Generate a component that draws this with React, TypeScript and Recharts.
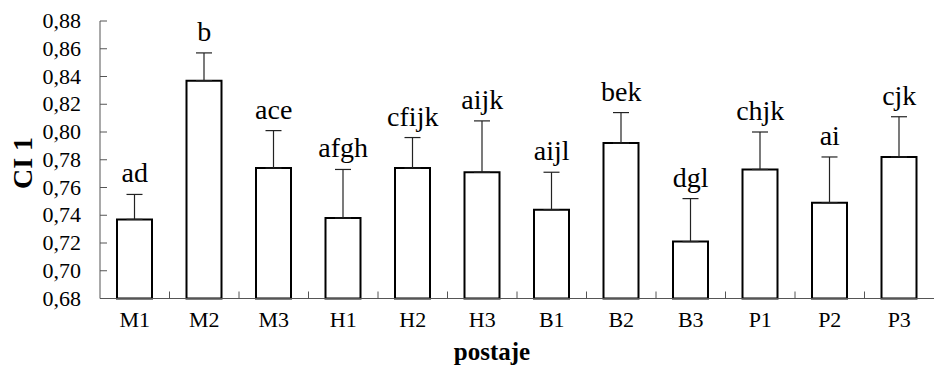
import React from 'react';
import { ComposedChart, Bar, Line, XAxis, YAxis, ErrorBar, LabelList, Label } from 'recharts';

const stations = ['M1', 'M2', 'M3', 'H1', 'H2', 'H3', 'B1', 'B2', 'B3', 'P1', 'P2', 'P3'];
const means = [0.737, 0.837, 0.774, 0.738, 0.774, 0.771, 0.744, 0.792, 0.721, 0.773, 0.749, 0.782];
const sds = [0.018, 0.020, 0.027, 0.035, 0.022, 0.037, 0.027, 0.022, 0.031, 0.027, 0.033, 0.029];
const groups = ['ad', 'b', 'ace', 'afgh', 'cfijk', 'aijk', 'aijl', 'bek', 'dgl', 'chjk', 'ai', 'cjk'];
const yTicks = [0.68, 0.7, 0.72, 0.74, 0.76, 0.78, 0.8, 0.82, 0.84, 0.86, 0.88];

const data = stations.map((s, i) => ({
  station: s,
  ci: means[i],
  err: [0, sds[i]],
  top: means[i] + sds[i],
  group: groups[i],
}));

const FONT = '"Liberation Serif", "Times New Roman", serif';
const AXIS = '#555';
const HALF_BAND = 34.75;

const XTick = (props: any) => {
  const { x, y, payload, index } = props;
  return (
    <g>
      {index > 0 && <line x1={x - HALF_BAND} x2={x - HALF_BAND} y1={y} y2={y - 7} stroke={AXIS} />}
      <text x={x} y={y + 28} textAnchor="middle" fontFamily={FONT} fontSize={22} fill="#000">
        {payload.value}
      </text>
    </g>
  );
};

const YTick = (props: any) => {
  const { y, payload } = props;
  return (
    <text x={81} y={y + 7} textAnchor="end" fontFamily={FONT} fontSize={22} fill="#000">
      {payload.value.toFixed(2).replace('.', ',')}
    </text>
  );
};

const GroupLabel = (props: any) => {
  const { x, y, value } = props;
  return (
    <text x={x} y={y - 12} textAnchor="middle" fontFamily={FONT} fontSize={28} fill="#000">
      {value}
    </text>
  );
};

export default function App() {
  return (
    <div style={{ position: 'absolute', left: 0, top: 0, background: '#fff' }}>
      <ComposedChart
        width={935}
        height={367}
        data={data}
        margin={{ top: 21, right: 1, bottom: 0, left: 0 }}
      >
        <XAxis
          dataKey="station"
          height={68.5}
          tickLine={false}
          tickSize={0}
          tickMargin={0}
          axisLine={{ stroke: AXIS }}
          tick={<XTick />}
          interval={0}
        >
          <Label
            content={() => (
              <text x={492} y={360} textAnchor="middle" fontFamily={FONT} fontSize={25} fontWeight="bold" fill="#000">
                postaje
              </text>
            )}
          />
        </XAxis>
        <YAxis
          width={100}
          domain={[0.68, 0.88]}
          ticks={yTicks}
          interval={0}
          tickSize={-7}
          tickMargin={27}
          axisLine={{ stroke: AXIS }}
          tickLine={{ stroke: AXIS }}
          tick={<YTick />}
        >
          <Label
            content={() => (
              <text
                x={32}
                y={163}
                transform="rotate(-90 32 163)"
                textAnchor="middle"
                fontFamily={FONT}
                fontSize={28}
                fontWeight="bold"
                fill="#000"
              >
                CI 1
              </text>
            )}
          />
        </YAxis>
        <Bar dataKey="ci" barSize={35} fill="#fff" stroke="#000" strokeWidth={2} isAnimationActive={false}>
          <ErrorBar dataKey="err" width={8} stroke="#222" strokeWidth={1.2} direction="y" />
        </Bar>
        <Line dataKey="top" stroke="none" dot={false} activeDot={false} isAnimationActive={false}>
          <LabelList dataKey="group" content={<GroupLabel />} />
        </Line>
      </ComposedChart>
    </div>
  );
}
